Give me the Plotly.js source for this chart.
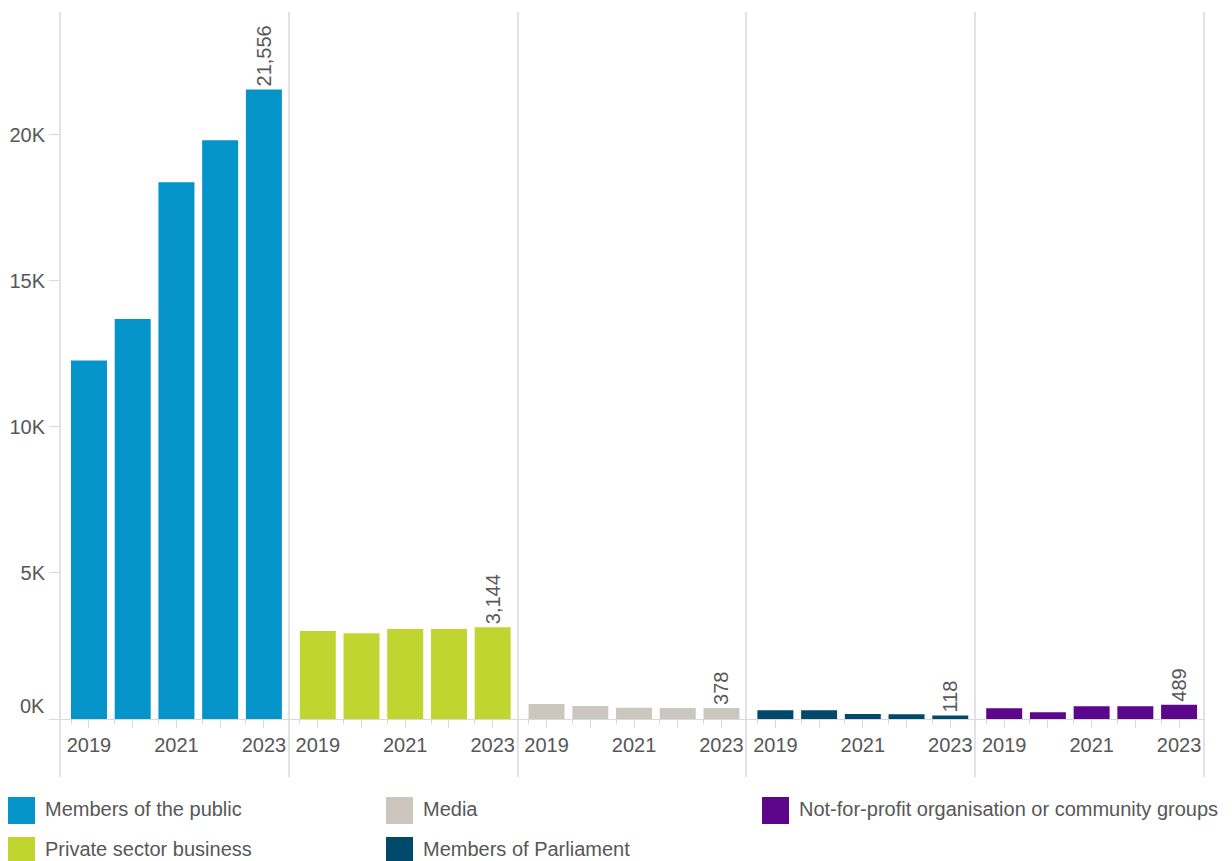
<!DOCTYPE html>
<html>
<head>
<meta charset="utf-8">
<script src="https://cdn.plot.ly/plotly-3.0.1.min.js"></script>
<style>html,body{margin:0;padding:0;background:#fff;}#chart{width:1232px;height:861px;}</style>
</head>
<body>
<div id="chart"></div>
<script>
// ---- data ----
const years = [2019, 2020, 2021, 2022, 2023];
const xTickText = ['2019', '', '2021', '', '2023'];
const categories = [
  'Members of the public',
  'Private sector business',
  'Media',
  'Members of Parliament',
  'Not-for-profit organisation or community groups'
];
const membersOfPublic = [12280, 13700, 18380, 19820, 21556];
const privateSector = [3010, 2940, 3080, 3080, 3144];
const media = [515, 445, 385, 380, 378];
const membersOfParliament = [300, 300, 170, 165, 118];
const notForProfit = [370, 235, 440, 440, 489];
const yTickVals = [0, 5000, 10000, 15000, 20000];
const yTickText = ['0K', '5K', '10K', '15K', '20K'];
const colors = ['#0594C9', '#C0D530', '#CBC7BF', '#00496B', '#5C068C'];

const seriesValues = [membersOfPublic, privateSector, media, membersOfParliament, notForProfit];

// ---- layout helpers (pixel -> paper) ----
const W = 1232, H = 861;
const M = {l: 60, r: 28, t: 12, b: 142};
const PW = W - M.l - M.r, PH = H - M.t - M.b;
const px = x => (x - M.l) / PW;
const py = y => (H - M.b - y) / PH;

const textColor = '#575757';
const lineColor = '#d9d9d9';
const fontFamily = 'Arial, "Liberation Sans", sans-serif';
const FS = 20;

const traces = [];
const layout = {
  width: W, height: H,
  margin: M,
  paper_bgcolor: '#ffffff',
  plot_bgcolor: '#ffffff',
  showlegend: false,
  font: {family: fontFamily, size: FS, color: textColor},
  yaxis: {
    range: [0, 24210],
    tickvals: yTickVals,
    ticktext: yTickText.map((t, i) => i === 0 ? '' : t),
    ticks: 'outside', ticklen: 10, tickcolor: lineColor, tickwidth: 1,
    showgrid: false, zeroline: false, showline: false,
    tickfont: {size: FS, color: textColor}
  },
  shapes: [],
  annotations: []
};

seriesValues.forEach((vals, i) => {
  const axId = i === 0 ? 'x' : 'x' + (i + 1);
  const axKey = i === 0 ? 'xaxis' : 'xaxis' + (i + 1);
  traces.push({
    type: 'bar',
    name: categories[i],
    x: years,
    y: vals,
    xaxis: axId,
    yaxis: 'y',
    width: 0.823,
    marker: {color: colors[i]},
    text: vals.map((v, j) => j === vals.length - 1 ? v.toLocaleString('en-US') : ''),
    textposition: 'outside',
    textangle: -90,
    constraintext: 'none',
    cliponaxis: false,
    textfont: {size: FS, color: textColor, family: fontFamily},
    hovertemplate: categories[i] + '<br>%{x}: %{y:,}<extra></extra>'
  });
  layout[axKey] = {
    domain: [i * 0.2, (i + 1) * 0.2],
    anchor: 'y',
    range: [2018.337, 2023.57],
    tickmode: 'array',
    tickvals: years,
    ticktext: xTickText,
    ticks: 'outside', ticklen: 8, tickcolor: lineColor, tickwidth: 1,
    showline: true, linecolor: lineColor, linewidth: 1,
    showgrid: false, zeroline: false,
    tickfont: {size: FS, color: textColor},
    minor: {
      tickmode: 'array',
      tickvals: years.map(y => y - 0.41),
      ticks: 'outside', ticklen: 4, tickcolor: lineColor, tickwidth: 1,
      showgrid: false
    }
  };
});

// panel separators
[60, 289, 518, 746, 975, 1204].forEach(x => {
  layout.shapes.push({
    type: 'line', xref: 'paper', yref: 'paper',
    x0: px(x), x1: px(x), y0: py(12), y1: py(777),
    line: {color: lineColor, width: 1.5}
  });
});

// "0K" label sits slightly above the baseline
layout.annotations.push({
  xref: 'paper', yref: 'paper', x: px(47), y: py(706),
  xanchor: 'right', yanchor: 'middle', showarrow: false,
  text: yTickText[0], font: {size: FS, color: textColor, family: fontFamily}
});

// custom legend (large square swatches)
const legendPos = [[8, 797], [8, 837], [386, 797], [386, 837], [762, 797]];
legendPos.forEach(([lx, ly], ci) => {
  layout.shapes.push({
    type: 'rect', xref: 'paper', yref: 'paper',
    x0: px(lx), x1: px(lx + 27), y0: py(ly), y1: py(ly + 27),
    fillcolor: colors[ci], line: {width: 0}
  });
  layout.annotations.push({
    xref: 'paper', yref: 'paper', x: px(lx + 35), y: py(ly + 12),
    xanchor: 'left', yanchor: 'middle', showarrow: false,
    text: categories[ci], font: {size: FS, color: textColor, family: fontFamily}
  });
});

Plotly.newPlot('chart', traces, layout, {displayModeBar: false, staticPlot: true});
</script>
</body>
</html>
